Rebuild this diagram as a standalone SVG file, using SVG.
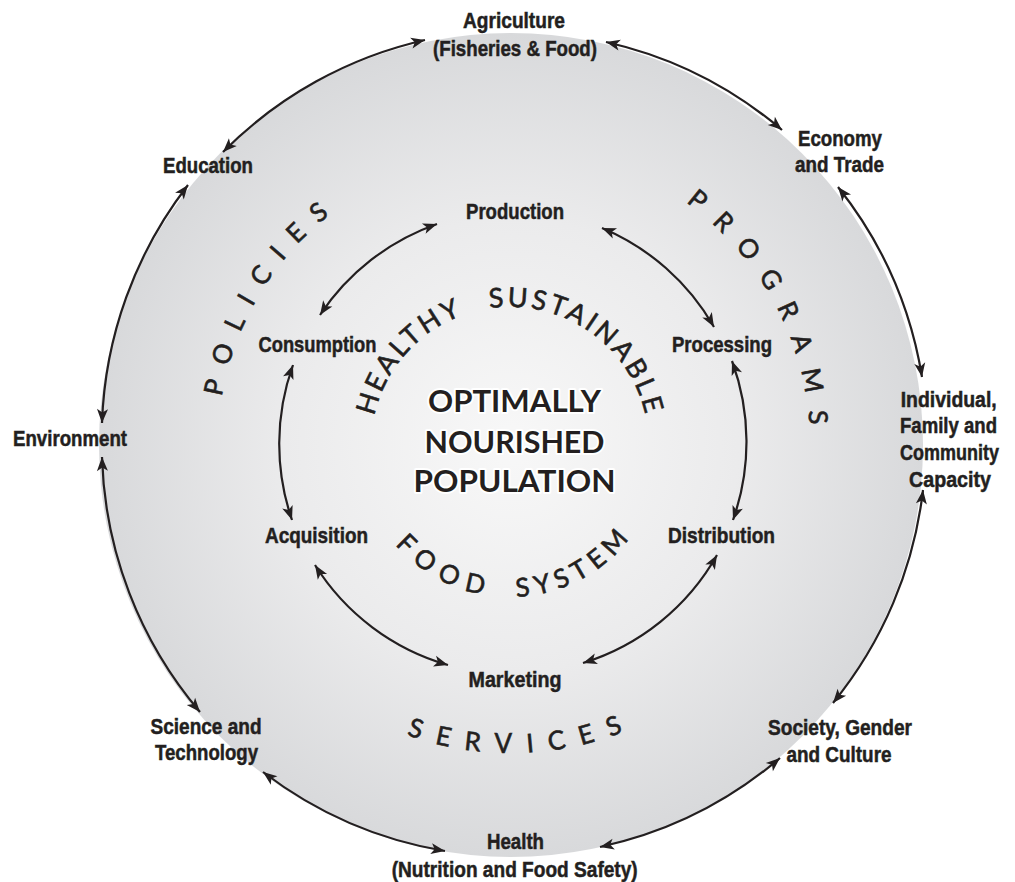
<svg xmlns="http://www.w3.org/2000/svg" width="1015" height="882" viewBox="0 0 1015 882">
  <defs>
    <radialGradient id="disc" cx="511" cy="445" r="412" gradientUnits="userSpaceOnUse">
      <stop offset="0" stop-color="#f8f8f8"/>
      <stop offset="0.55" stop-color="#ebebec"/>
      <stop offset="1" stop-color="#d8d9db"/>
    </radialGradient>
    <marker id="head" viewBox="-15 -6 16 12" refX="0" refY="0" markerWidth="16" markerHeight="12" markerUnits="userSpaceOnUse" orient="auto-start-reverse">
      <path d="M0,0 L-14,-5.5 L-10.5,0 L-14,5.5 Z" fill="#231f20"/>
    </marker>
    <!-- baselines for the curved lettering -->
    <path id="arcPolicies" d="M219.1,419.5 A293,293 0 0 1 410.8,169.7"/>
    <path id="arcPrograms" d="M660.5,186.1 A299,299 0 0 1 805.5,496.9"/>
    <path id="arcServices" d="M380.8,724.1 A308,308 0 0 0 665,711.7"/>
    <path id="arcHealthy" d="M371.5,433.9 A139,139 0 0 1 648.8,438.7"/>
    <path id="arcFood" d="M379.2,521.5 A151,151 0 0 0 640.8,521.5"/>
  </defs>
  <style>
    .lbl { font-family: "Liberation Sans", Arial, sans-serif; font-weight: bold; font-size: 22px; fill: #231f20; stroke: #231f20; stroke-width: 0.5; text-anchor: middle; }
    .ring { font-family: Lato, "Open Sans", sans-serif; fill: #231f20; stroke: #231f20; stroke-width: 0.6; }
    .core { font-family: Lato, "Open Sans", sans-serif; font-weight: bold; font-size: 31px; fill: #231f20; text-anchor: middle; stroke: #ffffff; stroke-width: 4; paint-order: stroke; stroke-linejoin: round; }
    .link { fill: none; stroke: #231f20; stroke-width: 2.2; marker-start: url(#head); marker-end: url(#head); }
  </style>

  <!-- shaded disc -->
  <circle cx="511" cy="445" r="412" fill="url(#disc)"/>

  <!-- connectors -->
  <g id="connectors">
    <!-- outer ring -->
    <path class="link" d="M223,152 A412,412 0 0 1 425,40"/>
    <path class="link" d="M606,42 A412,412 0 0 1 782,130"/>
    <path class="link" d="M838,187 A412,412 0 0 1 922,377"/>
    <path class="link" d="M923,490 A412,412 0 0 1 833,703"/>
    <path class="link" d="M780,758 A412,412 0 0 1 600,847"/>
    <path class="link" d="M445,851 A412,412 0 0 1 263,772"/>
    <path class="link" d="M200,712 A412,412 0 0 1 102,457"/>
    <path class="link" d="M102,423 A412,412 0 0 1 188,185"/>
    <!-- inner ring -->
    <path class="link" d="M320,315 A233,233 0 0 1 437,224"/>
    <path class="link" d="M602,228 A233,233 0 0 1 714,327"/>
    <path class="link" d="M732,361 A233,233 0 0 1 733,520"/>
    <path class="link" d="M717,555 A233,233 0 0 1 583,663"/>
    <path class="link" d="M448,665 A233,233 0 0 1 315,565"/>
    <path class="link" d="M292,520 A233,233 0 0 1 293,365"/>
  </g>

  <!-- outer sectors -->
  <g id="agriculture">
    <text class="lbl" x="514" y="28" textLength="102" lengthAdjust="spacingAndGlyphs">Agriculture</text>
    <text class="lbl" x="515" y="56" textLength="164" lengthAdjust="spacingAndGlyphs">(Fisheries &amp; Food)</text>
  </g>
  <g id="economy">
    <text class="lbl" x="840" y="146" textLength="84" lengthAdjust="spacingAndGlyphs">Economy</text>
    <text class="lbl" x="839.5" y="172" textLength="89" lengthAdjust="spacingAndGlyphs">and Trade</text>
  </g>
  <g id="capacity">
    <text class="lbl" x="948.7" y="407" textLength="96" lengthAdjust="spacingAndGlyphs">Individual,</text>
    <text class="lbl" x="948.5" y="433" textLength="97" lengthAdjust="spacingAndGlyphs">Family and</text>
    <text class="lbl" x="949.5" y="460" textLength="99" lengthAdjust="spacingAndGlyphs">Community</text>
    <text class="lbl" x="950" y="486.7" textLength="82" lengthAdjust="spacingAndGlyphs">Capacity</text>
  </g>
  <g id="society">
    <text class="lbl" x="840" y="735" textLength="144" lengthAdjust="spacingAndGlyphs">Society, Gender</text>
    <text class="lbl" x="839" y="761.7" textLength="105" lengthAdjust="spacingAndGlyphs">and Culture</text>
  </g>
  <g id="health">
    <text class="lbl" x="515.5" y="849" textLength="57" lengthAdjust="spacingAndGlyphs">Health</text>
    <text class="lbl" x="514.7" y="876.7" textLength="246" lengthAdjust="spacingAndGlyphs">(Nutrition and Food Safety)</text>
  </g>
  <g id="science">
    <text class="lbl" x="206" y="734" textLength="111" lengthAdjust="spacingAndGlyphs">Science and</text>
    <text class="lbl" x="206.5" y="760" textLength="103" lengthAdjust="spacingAndGlyphs">Technology</text>
  </g>
  <g id="environment">
    <text class="lbl" x="70" y="446" textLength="114" lengthAdjust="spacingAndGlyphs">Environment</text>
  </g>
  <g id="education">
    <text class="lbl" x="208" y="172.5" textLength="90" lengthAdjust="spacingAndGlyphs">Education</text>
  </g>

  <!-- food system stages -->
  <g id="production"><text class="lbl" x="515" y="219" textLength="98" lengthAdjust="spacingAndGlyphs">Production</text></g>
  <g id="processing"><text class="lbl" x="722" y="351.7" textLength="100" lengthAdjust="spacingAndGlyphs">Processing</text></g>
  <g id="distribution"><text class="lbl" x="721.5" y="542.7" textLength="107" lengthAdjust="spacingAndGlyphs">Distribution</text></g>
  <g id="marketing"><text class="lbl" x="515" y="687.3" textLength="93" lengthAdjust="spacingAndGlyphs">Marketing</text></g>
  <g id="acquisition"><text class="lbl" x="316.5" y="542.7" textLength="103" lengthAdjust="spacingAndGlyphs">Acquisition</text></g>
  <g id="consumption"><text class="lbl" x="317.5" y="351.7" textLength="118" lengthAdjust="spacingAndGlyphs">Consumption</text></g>

  <!-- curved ring lettering -->
  <g id="policies">
    <text class="ring" font-size="26" letter-spacing="15"><textPath href="#arcPolicies" startOffset="23">POLICIES</textPath></text>
  </g>
  <g id="programs">
    <text class="ring" font-size="26" letter-spacing="17"><textPath href="#arcPrograms" startOffset="30">PROGRAMS</textPath></text>
  </g>
  <g id="services">
    <text class="ring" font-size="26" letter-spacing="15"><textPath href="#arcServices" startOffset="28">SERVICES</textPath></text>
  </g>
  <g id="healthy-sustainable">
    <text class="ring" font-size="27" letter-spacing="3.2" word-spacing="17"><textPath href="#arcHealthy" startOffset="18">HEALTHY SUSTAINABLE</textPath></text>
  </g>
  <g id="food-system">
    <text class="ring" font-size="26" word-spacing="18"><textPath href="#arcFood" startOffset="28"><tspan letter-spacing="9">FOOD</tspan> <tspan letter-spacing="6.5">SYSTEM</tspan></textPath></text>
  </g>

  <!-- centre -->
  <g id="core">
    <text class="core" x="514.5" y="412" textLength="173" lengthAdjust="spacingAndGlyphs">OPTIMALLY</text>
    <text class="core" x="514.5" y="453" textLength="180" lengthAdjust="spacingAndGlyphs">NOURISHED</text>
    <text class="core" x="514.5" y="492" textLength="202" lengthAdjust="spacingAndGlyphs">POPULATION</text>
  </g>
</svg>
